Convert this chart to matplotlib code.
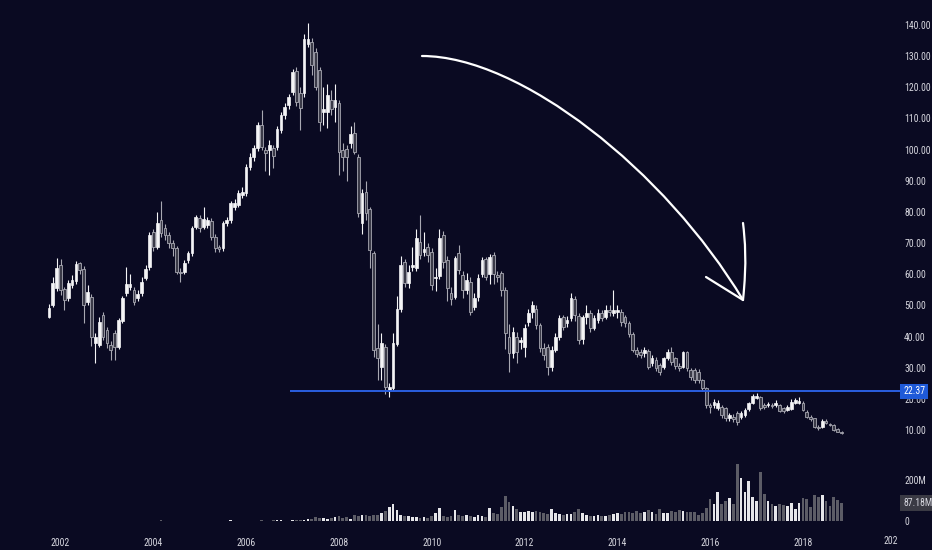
import matplotlib
matplotlib.use("Agg")
import matplotlib.pyplot as plt
import numpy as np
import pandas as pd
from matplotlib.path import Path
from matplotlib.patches import PathPatch

# ---------------- data (monthly candles, Oct 2001 .. Nov 2018) ----------------
start_month = "2001-10-01"
opens = [46.4, 50.1, 55.5, 63.0, 55.2, 52.3, 56.5, 57.9, 63.5, 61.7,
         51.2, 52.8, 37.8, 37.3, 46.9, 42.1, 37.3, 41.0, 36.8, 45.1,
         53.9, 55.8, 54.9, 52.3, 53.9, 58.7, 62.2, 73.7, 68.9, 77.4,
         74.7, 72.6, 69.9, 68.3, 60.8, 60.8, 64.6, 66.7, 75.3, 78.0,
         75.3, 75.8, 77.2, 72.1, 68.6, 68.3, 76.3, 77.4, 81.7, 82.2,
         85.4, 86.0, 94.5, 97.7, 100.4, 107.9, 99.9, 99.9, 100.4, 101.0,
         106.3, 111.1, 114.3, 118.6, 125.4, 118.1, 118.1, 133.9, 134.7, 131.5,
         125.6, 112.2, 112.2, 115.9, 113.8, 114.9, 99.9, 100.1, 102.2, 105.2,
         97.7, 76.3, 86.5, 80.8, 66.7, 36.2, 30.3, 36.6, 22.8, 23.4,
         37.6, 49.0, 64.0, 57.1, 62.4, 61.9, 70.5, 67.2, 68.9, 67.2,
         58.7, 59.4, 72.6, 64.6, 53.9, 52.8, 66.7, 59.8, 55.0, 57.6,
         49.6, 52.6, 60.1, 64.8, 60.1, 66.2, 59.8, 60.3, 55.0, 40.0,
         34.6, 40.0, 38.4, 36.8, 44.8, 48.0, 49.0, 43.7, 36.2, 36.8,
         30.3, 35.7, 40.0, 46.4, 44.5, 45.8, 52.0, 46.6, 39.1, 46.4,
         47.5, 42.6, 45.3, 47.5, 46.4, 48.5, 47.5, 48.0, 48.0, 46.2,
         44.5, 40.8, 35.7, 35.1, 34.8, 35.5, 31.4, 32.5, 30.9, 30.1,
         33.0, 35.1, 33.0, 30.5, 30.3, 35.1, 29.3, 29.3, 28.7, 26.0,
         23.4, 18.0, 18.0, 17.0, 17.5, 17.0, 13.7, 14.3, 15.4, 14.3,
         14.8, 16.6, 18.8, 20.2, 20.7, 18.0, 18.0, 18.0, 18.0, 18.0,
         17.0, 16.4, 16.6, 18.8, 18.8, 18.8, 15.9, 14.3, 13.7, 11.1,
         10.9, 13.0, 11.9, 11.6, 10.2, 9.5]
closes = [49.1, 57.1, 61.9, 54.9, 51.7, 57.1, 58.2, 63.3, 61.4, 50.1,
          54.4, 40.0, 40.0, 44.8, 40.0, 37.8, 35.7, 36.8, 45.3, 52.3,
          56.8, 56.9, 51.2, 53.7, 57.6, 61.6, 72.6, 68.9, 76.3, 73.1,
          72.6, 69.9, 68.3, 60.8, 60.3, 63.5, 66.9, 74.7, 78.3, 74.7,
          77.6, 77.4, 72.1, 68.3, 68.0, 76.3, 77.4, 82.8, 82.8, 86.0,
          86.5, 94.5, 97.7, 100.4, 107.9, 101.0, 99.0, 101.5, 98.1, 106.5,
          111.1, 113.8, 117.0, 125.0, 115.4, 113.3, 135.4, 135.4, 127.2, 120.2,
          109.0, 112.9, 117.5, 112.9, 115.9, 99.4, 97.7, 97.7, 105.0, 99.4,
          79.6, 86.0, 79.6, 67.8, 35.7, 33.0, 38.0, 23.8, 23.9, 37.8,
          49.0, 63.0, 57.1, 60.8, 63.0, 71.5, 66.2, 68.0, 66.2, 56.5,
          59.2, 71.5, 64.0, 55.5, 52.0, 65.1, 61.4, 55.0, 58.2, 48.0,
          52.3, 58.7, 64.6, 59.2, 65.6, 60.1, 59.2, 55.0, 41.0, 34.6,
          41.6, 35.1, 38.9, 42.6, 47.5, 50.1, 43.7, 36.2, 34.1, 30.3,
          35.7, 40.0, 45.8, 43.2, 45.3, 52.3, 47.0, 38.9, 46.4, 47.5,
          42.6, 45.8, 47.5, 46.0, 48.5, 47.8, 48.5, 48.5, 44.8, 44.2,
          40.8, 35.7, 34.4, 34.1, 35.7, 30.1, 33.0, 29.8, 28.7, 33.0,
          35.1, 31.9, 30.5, 30.0, 35.1, 29.8, 26.9, 26.0, 26.0, 23.4,
          18.0, 17.5, 19.1, 18.8, 14.8, 13.7, 14.8, 13.5, 12.7, 15.4,
          16.4, 18.6, 20.9, 20.9, 17.0, 17.3, 18.3, 17.7, 18.6, 16.2,
          16.2, 17.5, 19.1, 19.6, 19.4, 16.4, 14.3, 13.4, 10.9, 10.5,
          13.0, 12.1, 11.6, 10.0, 9.5, 9.0]
highs = [50.5, 59.0, 65.1, 65.0, 56.0, 58.2, 59.8, 64.4, 64.0, 62.5,
         56.5, 53.5, 41.0, 46.4, 48.0, 43.0, 38.5, 42.0, 46.0, 53.0,
         62.2, 60.0, 56.0, 55.0, 59.0, 63.0, 73.5, 74.5, 80.1, 83.4,
         76.0, 73.5, 71.0, 69.0, 62.0, 64.5, 67.5, 75.5, 79.0, 79.0,
         81.7, 78.5, 78.0, 73.0, 69.5, 77.0, 78.5, 83.5, 84.0, 87.0,
         88.0, 95.5, 99.0, 101.5, 109.0, 112.7, 101.0, 103.0, 101.5, 107.5,
         112.0, 115.0, 118.0, 126.0, 126.5, 120.0, 137.0, 140.5, 136.0, 132.5,
         126.5, 120.0, 121.0, 119.0, 121.0, 116.0, 102.0, 101.5, 107.5, 109.0,
         98.5, 87.5, 90.0, 81.5, 67.5, 44.0, 41.0, 37.5, 25.0, 41.0,
         53.0, 66.0, 65.0, 63.0, 68.9, 74.4, 79.0, 73.5, 70.0, 68.5,
         62.0, 74.5, 74.0, 66.0, 56.0, 66.0, 69.3, 61.0, 60.5, 59.0,
         54.0, 60.0, 65.5, 65.5, 66.5, 67.0, 61.0, 61.0, 56.0, 44.0,
         43.0, 41.5, 40.0, 44.0, 49.0, 51.5, 50.0, 44.5, 38.0, 37.5,
         37.0, 41.0, 47.0, 47.0, 46.5, 54.0, 53.0, 47.5, 47.0, 50.0,
         48.5, 47.0, 49.0, 48.5, 50.0, 50.0, 54.9, 50.0, 49.0, 47.0,
         45.0, 41.5, 36.5, 36.0, 36.8, 36.0, 34.0, 33.5, 31.5, 33.5,
         36.0, 36.5, 33.5, 31.5, 35.5, 35.5, 30.0, 29.8, 29.5, 26.5,
         23.8, 18.8, 19.8, 19.5, 18.0, 17.5, 15.5, 15.0, 16.0, 16.0,
         17.0, 19.0, 21.5, 21.8, 21.0, 18.8, 19.0, 18.8, 19.5, 18.5,
         17.5, 18.0, 19.8, 20.2, 20.5, 19.2, 16.3, 14.8, 14.0, 11.5,
         13.4, 13.4, 12.4, 11.9, 10.5, 9.8]
lows = [45.8, 49.5, 54.5, 53.3, 48.5, 51.5, 55.5, 57.0, 60.0, 44.2,
        50.0, 37.0, 31.4, 36.5, 39.0, 36.2, 32.5, 32.5, 36.0, 44.5,
        53.0, 55.0, 50.0, 51.5, 53.0, 58.0, 61.5, 67.5, 68.0, 72.0,
        71.0, 68.5, 66.0, 60.0, 57.6, 60.0, 63.5, 66.0, 74.5, 73.5,
        74.5, 75.0, 71.0, 67.0, 67.0, 67.5, 75.5, 76.5, 80.5, 81.5,
        84.5, 85.0, 93.5, 96.5, 99.5, 100.0, 93.0, 92.0, 94.0, 100.0,
        105.5, 110.0, 113.0, 117.5, 114.0, 106.3, 117.0, 133.0, 124.0, 119.0,
        106.0, 108.0, 107.0, 111.0, 109.0, 92.0, 93.0, 90.0, 100.5, 98.5,
        78.5, 73.0, 77.5, 62.0, 33.5, 26.0, 26.0, 21.5, 20.5, 22.8,
        37.0, 48.0, 56.0, 55.5, 61.0, 61.0, 65.0, 66.0, 64.0, 55.0,
        54.5, 58.5, 62.0, 51.5, 50.0, 52.0, 60.0, 52.5, 53.5, 47.0,
        48.5, 51.5, 59.0, 58.0, 57.0, 57.0, 57.5, 53.0, 36.0, 28.7,
        33.0, 31.5, 36.0, 33.5, 43.5, 46.0, 42.5, 35.0, 32.5, 27.7,
        29.0, 35.0, 39.0, 42.0, 43.0, 45.0, 45.0, 37.5, 37.5, 44.0,
        41.5, 42.0, 44.5, 45.0, 45.5, 46.5, 46.5, 46.0, 43.5, 43.0,
        40.0, 35.0, 33.5, 33.0, 33.5, 29.5, 30.5, 29.0, 27.5, 29.5,
        32.5, 31.0, 29.5, 29.0, 30.0, 29.0, 26.0, 25.0, 25.0, 22.5,
        17.0, 15.5, 17.0, 16.5, 14.0, 13.0, 13.0, 12.5, 11.5, 13.5,
        14.3, 16.0, 18.5, 19.8, 16.5, 16.8, 17.3, 17.0, 17.5, 15.8,
        15.5, 16.0, 16.3, 18.3, 18.5, 16.0, 14.0, 13.0, 10.5, 10.0,
        10.6, 11.8, 11.2, 9.8, 9.2, 8.7]
volumes_m = [0, 0, 0, 0, 0, 0, 0, 0, 0, 0,
             0, 0, 0, 0, 0, 0, 0, 0, 0, 0,
             0, 0, 0, 0, 0, 0, 0, 0, 0, 6,
             0, 0, 0, 0, 0, 0, 0, 0, 0, 0,
             0, 0, 0, 0, 0, 0, 0, 6, 0, 0,
             0, 0, 0, 0, 0, 6, 0, 0, 6, 7,
             5, 0, 0, 6, 7, 6, 5, 10, 12, 19,
             14, 13, 10, 16, 20, 24, 14, 18, 12, 30,
             22, 28, 30, 26, 30, 28, 37, 48, 70, 82,
             54, 30, 26, 22, 18, 20, 15, 20, 16, 26,
             37, 65, 26, 20, 22, 54, 30, 22, 28, 24,
             20, 30, 22, 20, 65, 37, 34, 70, 124, 94,
             75, 59, 46, 44, 48, 46, 50, 44, 40, 36,
             59, 40, 34, 30, 33, 36, 46, 59, 40, 28,
             26, 22, 30, 24, 22, 28, 34, 40, 36, 42,
             46, 38, 50, 40, 44, 54, 42, 36, 59, 40,
             38, 50, 42, 54, 50, 46, 44, 46, 30, 40,
             62, 108, 82, 140, 82, 100, 110, 83, 276, 208,
             140, 195, 115, 99, 237, 132, 99, 83, 73, 83,
             78, 73, 89, 57, 89, 110, 106, 70, 127, 115,
             127, 99, 73, 119, 102, 87]
support_level = 22.37
last_volume_label = "87.18M"
price_ticks = [10, 20, 30, 40, 50, 60, 70, 80, 90, 100, 110, 120, 130, 140]
year_ticks = [2002, 2004, 2006, 2008, 2010, 2012, 2014, 2016, 2018]

# ---------------- figure ----------------
W, H = 932, 550
BG = "#0a0a22"
FONT = ["Liberation Sans Narrow", "Roboto Condensed", "DejaVu Sans"]
plt.rcParams["font.family"] = FONT
TXT = "#d6d6de"
FS = 7

fig = plt.figure(figsize=(W / 100, H / 100), dpi=100, facecolor=BG)
rect = [0, 20 / H, 900 / W, 530 / H]
ax = fig.add_axes(rect, facecolor=BG)
axv = fig.add_axes(rect, facecolor="none", sharex=ax)

dates = pd.date_range(start_month, periods=len(closes), freq="MS")
x = dates.year + (dates.month - 1) / 12.0

o = np.array(opens); c = np.array(closes)
h = np.array(highs); l = np.array(lows)
up = c >= o

x_left = 2002 - 60.5 / 46.4
x_right = 2002 + (900 - 60.5) / 46.4
ax.set_xlim(x_left, x_right)
ax.set_ylim(10 - 100 / 3.115, 10 + 430 / 3.115)
axv.set_ylim(-9 / 0.205, 521 / 0.205)

w = 0.058
up_col = "#f4f4f6"
dn_edge = "#a8a8b2"
dn_face = "#3a3a48"

ax.vlines(x[up], l[up], h[up], color=up_col, lw=0.8, zorder=2)
ax.vlines(x[~up], l[~up], h[~up], color=dn_edge, lw=0.8, zorder=2)
body_b = np.minimum(o, c)
body_h = np.maximum(np.abs(c - o), 0.4)
ax.bar(x[up], body_h[up], bottom=body_b[up], width=w, color=up_col,
       edgecolor=up_col, lw=0.5, zorder=3)
ax.bar(x[~up], body_h[~up], bottom=body_b[~up], width=w, color=dn_face,
       edgecolor=dn_edge, lw=0.6, zorder=3)

vol = np.array(volumes_m, dtype=float)
axv.bar(x[up], vol[up], width=w, color="#e6e6ea", lw=0, zorder=2)
axv.bar(x[~up], vol[~up], width=w, color="#5c5c66", lw=0, zorder=2)

# support line
ax.hlines(support_level, 2002 + (290 - 60.5) / 46.4, x_right,
          color="#2a5fe0", lw=1.4, zorder=4)

for a in (ax, axv):
    for s in a.spines.values():
        s.set_visible(False)
    a.tick_params(length=0)

ax.yaxis.tick_right()
ax.set_yticks(price_ticks)
ax.set_yticklabels([f"{t:.2f}" for t in price_ticks], color=TXT, fontsize=FS)
ax.tick_params(axis="y", pad=3)
ax.set_xticks(year_ticks)
ax.set_xticklabels([str(t) for t in year_ticks], color=TXT, fontsize=FS)
ax.tick_params(axis="x", pad=6)

axv.yaxis.tick_right()
axv.set_yticks([0, 200])
axv.set_yticklabels(["0", "200M"], color=TXT, fontsize=FS)
axv.tick_params(axis="y", pad=3)
axv.tick_params(axis="x", labelbottom=False)

ytr = ax.get_yaxis_transform()
ax.text(1.0 + 3 / 900, support_level, f"{support_level:.2f}", transform=ytr,
        ha="left", va="center", color="white", fontsize=FS, zorder=10,
        bbox=dict(boxstyle="square,pad=0.3", fc="#1f5ad8", ec="none"),
        clip_on=False)
axv.text(1.0 + 3 / 900, 87.18, last_volume_label,
         transform=axv.get_yaxis_transform(), ha="left", va="center",
         color=TXT, fontsize=FS, zorder=10,
         bbox=dict(boxstyle="square,pad=0.3", fc="#3a3a44", ec="none"),
         clip_on=False)
fig.text(891 / W, 1 - 541 / H, "202", color=TXT, fontsize=FS,
         ha="center", va="center")

# hand-drawn arrow annotation (pixel positions)
def P(px, py):
    return (px / W, 1 - py / H)

curve = Path([P(422, 56), P(520, 56), P(665, 170), P(743, 300)],
             [Path.MOVETO, Path.CURVE4, Path.CURVE4, Path.CURVE4])
fig.patches.append(PathPatch(curve, transform=fig.transFigure, fc="none",
                             ec="white", lw=1.6, capstyle="round"))
head1 = Path([P(706, 277), P(743, 300)], [Path.MOVETO, Path.LINETO])
head2 = Path([P(743, 300), P(747, 262), P(745, 240), P(743, 223)],
             [Path.MOVETO, Path.CURVE4, Path.CURVE4, Path.CURVE4])
for pth in (head1, head2):
    fig.patches.append(PathPatch(pth, transform=fig.transFigure, fc="none",
                                 ec="white", lw=1.6, capstyle="round"))

fig.savefig("out.png", dpi=100, facecolor=BG)
